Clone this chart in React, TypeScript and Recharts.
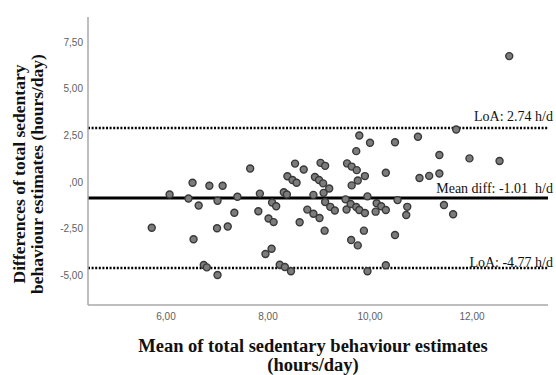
import { ScatterChart, Scatter, XAxis, YAxis, ReferenceLine } from "recharts";

// mean of the two estimates (hours/day)
const meanHours = [
  5.72, 6.07, 6.44, 6.52, 6.64, 6.85, 7.11, 7.01, 7.0, 7.21, 6.54, 6.74, 6.8, 7.01,
  7.34, 7.4, 7.65, 7.84, 7.81, 8.08, 8.16, 8.01, 8.11, 7.95, 8.07, 8.23, 8.33, 8.45,
  8.31, 8.37, 8.38, 8.48, 8.56, 8.53, 8.7, 8.62, 8.77, 8.89, 9.01, 9.11, 8.89, 8.92,
  9.0, 9.08, 9.03, 9.12, 9.09, 9.12, 9.2, 9.22, 9.31, 9.79, 10.0, 10.49, 9.73, 9.55,
  9.64, 9.74, 9.9, 10.31, 9.76, 9.64, 9.52, 9.95, 9.54, 9.62, 9.73, 9.79, 9.9, 10.13,
  10.22, 10.31, 10.11, 10.54, 10.73, 10.71, 9.88, 9.63, 9.76, 10.49, 10.31, 9.95,
  10.94, 11.69, 11.36, 11.95, 12.54, 10.97, 11.16, 11.36, 11.45, 11.63, 12.73,
];

// difference between the two estimates (hours/day)
const diffHours = [
  -2.61, -0.83, -1.04, -0.2, -1.42, -0.36, -0.36, -1.16, -2.64, -2.55, -3.23, -4.61, -4.74, -5.15,
  -1.81, -0.95, 0.57, -0.78, -1.73, -1.26, -1.46, -2.12, -2.31, -4.02, -3.74, -4.6, -4.72, -4.95,
  -0.71, -0.83, 0.15, -0.05, -0.2, 0.83, 0.51, -2.32, -1.64, -1.86, -2.09, -2.77, -0.85, 0.11,
  -0.05, -0.23, 0.87, 0.71, -0.74, -1.23, -0.51, -1.49, -1.69, 2.34, 1.95, 1.98, 1.5, 0.84,
  0.67, 0.48, 0.16, 0.34, -0.08, -0.34, -1.09, -0.93, -1.63, -1.34, -1.5, -1.66, -1.82, -1.3,
  -1.46, -1.66, -1.75, -1.13, -1.49, -1.93, -2.77, -3.27, -3.56, -3.0, -4.63, -4.95,
  2.27, 2.66, 1.29, 1.11, 0.97, 0.06, 0.17, 0.3, -1.39, -1.89, 6.6,
];

const xTicks = [6, 8, 10, 12];
const yTicks = [-5, -2.5, 0, 2.5, 5, 7.5];

const meanDiff = -1.01;
const upperLoA = 2.74;
const lowerLoA = -4.77;

const points = meanHours.map((x, i) => ({ x, y: diffHours[i] }));

const SANS = "'Liberation Sans', Arial, sans-serif";
const SERIF = "'Liberation Serif', 'Times New Roman', serif";

// SPSS style: comma decimals, no leading zero
const fmt = (v: number) => v.toFixed(2).replace(".", ",").replace(/^(-?)0,/, "$1,");

function Dot(props: any) {
  const { cx, cy } = props;
  if (cx == null || cy == null) return null;
  return <circle cx={cx} cy={cy} r={3.5} fill="#7c7c7c" stroke="#383838" strokeWidth={1.4} />;
}

const lineLabel = (text: string, lift: number) => (props: any) => {
  const vb = props.viewBox || { x: 0, y: 0, width: 0 };
  return (
    <text
      x={vb.x + vb.width + 5}
      y={vb.y - lift}
      textAnchor="end"
      fontFamily={SERIF}
      fontSize={14}
      fill="#111"
    >
      {text}
    </text>
  );
};

function XTitle() {
  return (
    <text textAnchor="middle" fontFamily={SERIF} fontWeight="bold" fontSize={18.5} fill="#111">
      <tspan x={313} y={352}>Mean of total sedentary behaviour estimates</tspan>
      <tspan x={313} y={371}>(hours/day)</tspan>
    </text>
  );
}

function YTitle() {
  return (
    <g fontFamily={SERIF} fontWeight="bold" fontSize={17.5} fill="#111">
      <text transform="translate(25,174) rotate(-90)" textAnchor="middle">
        Differences of total sedentary
      </text>
      <text transform="translate(43,174) rotate(-90)" textAnchor="middle">
        behaviour estimates (hours/day)
      </text>
    </g>
  );
}

export default function App() {
  return (
    <div style={{ position: "absolute", left: 0, top: 0, background: "#fff" }}>
      <ScatterChart width={556} height={375} margin={{ top: 17, right: 8, bottom: 0, left: 0 }}>
        <XAxis
          type="number"
          dataKey="x"
          domain={[4.47, 13.49]}
          ticks={xTicks}
          allowDataOverflow
          height={70}
          tickLine={false}
          axisLine={{ stroke: "#a8a8a8", strokeWidth: 1.5 }}
          tick={(p: any) => (
            <text x={p.x} y={p.y} dy="0.71em" textAnchor="middle" fontFamily={SANS} fontSize={10} fill="#606060">
              {fmt(p.payload.value)}
            </text>
          )}
          label={{ content: XTitle }}
        />
        <YAxis
          type="number"
          dataKey="y"
          domain={[-6.76, 8.7]}
          ticks={yTicks}
          allowDataOverflow
          width={88}
          tickLine={false}
          tickSize={3}
          tickMargin={2}
          axisLine={{ stroke: "#a8a8a8", strokeWidth: 1.5 }}
          tick={(p: any) => (
            <text x={p.x} y={p.y + 3} dy="0.355em" textAnchor="end" fontFamily={SANS} fontSize={10} fill="#606060">
              {fmt(p.payload.value)}
            </text>
          )}
          label={{ content: YTitle }}
        />
        <ReferenceLine
          y={upperLoA}
          stroke="#000"
          strokeWidth={2.5}
          strokeDasharray="2 1.6"
          label={lineLabel("LoA: 2.74 h/d", 7)}
        />
        <ReferenceLine
          y={meanDiff}
          stroke="#000"
          strokeWidth={3}
          label={lineLabel("Mean diff: -1.01\u00a0\u00a0h/d", 5)}
        />
        <ReferenceLine
          y={lowerLoA}
          stroke="#000"
          strokeWidth={2.5}
          strokeDasharray="2 1.6"
          label={lineLabel("LoA: -4.77 h/d", 1)}
        />
        <Scatter data={points} shape={Dot} isAnimationActive={false} />
      </ScatterChart>
    </div>
  );
}
